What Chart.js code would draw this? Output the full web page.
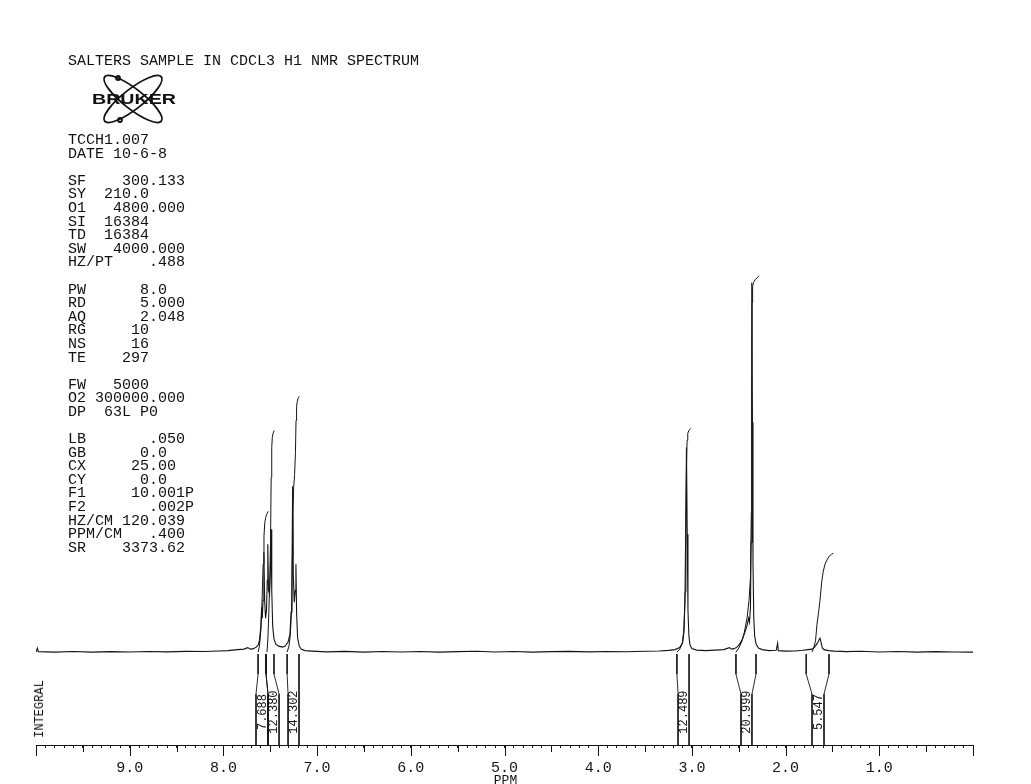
<!DOCTYPE html>
<html>
<head>
<meta charset="utf-8">
<title>SALTERS SAMPLE IN CDCL3 H1 NMR SPECTRUM</title>
<script src="https://cdn.jsdelivr.net/npm/chart.js@4.4.1/dist/chart.umd.min.js"></script>
<style>
  html, body { margin: 0; padding: 0; background: #fff; }
  #page { position: relative; width: 1031px; height: 784px; overflow: hidden; }
  #spectrum { position: absolute; left: 0; top: 0; }
  .plot-text {
    position: absolute; margin: 0; color: #111;
    font-family: "Liberation Mono", "DejaVu Sans Mono", monospace;
    font-size: 15px; line-height: 13.6px; white-space: pre;
  }
  #title { left: 68px; top: 55px; }
  #params { left: 68px; top: 134px; }
  #logo { position: absolute; left: 86px; top: 70px; }
  #integral-label {
    position: absolute; left: 40px; top: 709px; color: #111;
    font: 12px "Liberation Mono", monospace; white-space: pre;
    transform: translate(-50%, -50%) rotate(-90deg);
  }
</style>
</head>
<body>
<div id="page">
  <canvas id="spectrum" width="1031" height="784"></canvas>
  <div id="title" class="plot-text">SALTERS SAMPLE IN CDCL3 H1 NMR SPECTRUM</div>
  <svg id="logo" width="100" height="58" viewBox="0 0 100 58">
    <g fill="none" stroke="#111" stroke-width="1.8">
      <ellipse cx="47" cy="29" rx="36" ry="10" transform="rotate(38 47 29)"/>
      <ellipse cx="47" cy="29" rx="36" ry="10" transform="rotate(-38 47 29)"/>
      <circle cx="32" cy="8" r="2"/>
      <circle cx="34" cy="50" r="2"/>
    </g>
    <text x="6" y="34" textLength="84" lengthAdjust="spacingAndGlyphs"
          font-family="Liberation Sans, Arial, sans-serif" font-weight="bold" font-size="14" fill="#111">BRUKER</text>
  </svg>
  <pre id="params" class="plot-text">TCCH1.007
DATE 10-6-8

SF    300.133
SY  210.0
O1   4800.000
SI  16384
TD  16384
SW   4000.000
HZ/PT    .488

PW      8.0
RD      5.000
AQ      2.048
RG     10
NS     16
TE    297

FW   5000
O2 300000.000
DP  63L P0

LB       .050
GB      0.0
CX     25.00
CY      0.0
F1     10.001P
F2       .002P
HZ/CM 120.039
PPM/CM   .400
SR    3373.62</pre>
  <div id="integral-label">INTEGRAL</div>
</div>
<script>
// ---- data (ppm, height above baseline) ----
const spectrum = [
  [10.00, 0], [9.985, 4], [9.975, 0.5], [9.80, 0], [9.60, 0.6], [9.40, 0], [9.20, 0.5],
  [9.00, 0.2], [8.80, 0.7], [8.60, 0.3], [8.40, 0.8], [8.20, 0.6], [8.05, 1.2], [7.95, 1.5],
  [7.85, 2.5], [7.78, 3], [7.74, 4.5], [7.71, 3], [7.68, 3.5], [7.65, 5], [7.63, 7],
  [7.615, 12], [7.60, 26], [7.592, 45], [7.585, 34], [7.577, 52], [7.568, 100], [7.560, 52],
  [7.550, 34], [7.540, 42], [7.532, 72], [7.526, 108], [7.519, 62], [7.507, 58], [7.498, 85],
  [7.491, 123], [7.484, 62], [7.474, 26], [7.46, 13], [7.44, 8], [7.41, 6], [7.37, 5],
  [7.34, 6], [7.31, 10], [7.29, 18], [7.277, 40], [7.268, 80], [7.261, 166], [7.254, 78],
  [7.244, 50], [7.233, 62], [7.226, 88], [7.219, 40], [7.208, 14], [7.19, 6], [7.17, 3],
  [7.13, 1.5], [7.05, 1], [6.90, 0.3], [6.70, 0.8], [6.50, 0], [6.30, 0.6], [6.10, 0.2],
  [5.90, 0.7], [5.70, 0], [5.50, 0.5], [5.30, 0.9], [5.10, 0.2], [4.90, 0.6], [4.70, 0],
  [4.50, 0.5], [4.30, 0.8], [4.10, 0.3], [3.90, 0.7], [3.70, 0.4], [3.50, 0.9], [3.35, 1.2],
  [3.25, 1.8], [3.18, 2.5], [3.13, 4.5], [3.10, 9], [3.085, 20], [3.075, 48], [3.066, 120],
  [3.058, 205], [3.050, 118], [3.042, 42], [3.032, 16], [3.02, 7], [3.00, 3.5], [2.95, 2],
  [2.85, 1.5], [2.75, 2], [2.66, 2.5], [2.60, 4.5], [2.575, 3], [2.55, 3.5], [2.52, 5],
  [2.49, 8], [2.46, 13], [2.43, 21], [2.41, 27], [2.395, 34], [2.385, 30], [2.375, 45],
  [2.368, 110], [2.363, 240], [2.359, 370], [2.354, 230], [2.348, 90], [2.340, 35], [2.33, 16],
  [2.315, 8], [2.29, 4], [2.25, 2.5], [2.18, 1.5], [2.10, 1.8], [2.085, 9], [2.078, 1.5],
  [2.00, 1], [1.90, 1.2], [1.82, 1.8], [1.76, 2.5], [1.72, 3], [1.69, 5], [1.66, 9],
  [1.645, 12], [1.633, 14], [1.62, 9], [1.607, 4], [1.59, 2.5], [1.54, 1.5], [1.48, 1],
  [1.35, 0.5], [1.20, 0.9], [1.00, 0.2], [0.80, 0.7], [0.60, 0], [0.40, 0.5], [0.20, 0.2],
  [0.00, 0]
];

// integral traces, one per region
const integral1 = [[7.63, 0], [7.615, 6], [7.60, 22], [7.588, 50], [7.576, 88], [7.567, 116],
  [7.558, 130], [7.548, 135], [7.538, 138], [7.522, 141]];
const integral2 = [[7.535, 0], [7.525, 14], [7.515, 40], [7.505, 72], [7.497, 110], [7.490, 175],
  [7.484, 205], [7.478, 215], [7.470, 219], [7.458, 222]];
const integral3 = [[7.32, 0], [7.30, 6], [7.285, 18], [7.272, 45], [7.264, 95], [7.258, 140],
  [7.250, 165], [7.240, 178], [7.231, 200], [7.225, 232], [7.219, 246], [7.212, 251],
  [7.203, 254], [7.192, 256]];
const integral4 = [[3.16, 0], [3.13, 3], [3.10, 10], [3.085, 24], [3.072, 60], [3.064, 130],
  [3.057, 190], [3.051, 212], [3.044, 219], [3.032, 222], [3.012, 224]];
const integral5 = [[2.53, 0], [2.50, 4], [2.47, 10], [2.44, 20], [2.41, 35], [2.39, 52],
  [2.375, 75], [2.366, 140], [2.361, 260], [2.357, 350], [2.352, 366], [2.343, 370],
  [2.325, 373], [2.30, 375], [2.285, 377]];
const integral6 = [[1.72, 0], [1.70, 4], [1.68, 12], [1.665, 28], [1.648, 40], [1.633, 52],
  [1.615, 70], [1.60, 80], [1.58, 88], [1.56, 92], [1.535, 96], [1.51, 98], [1.49, 99]];

// integral values and region limits (ppm) at the baseline and at the axis
const integralValues = ['7.688', '12.380', '14.302', '12.489', '20.999', '5.547'];
const integralTop = [[7.63, 7.545], [7.545, 7.46], [7.32, 7.193], [3.16, 3.03], [2.53, 2.316], [1.78, 1.537]];
const integralFoot = [[7.652, 7.524], [7.524, 7.406], [7.31, 7.193], [3.148, 3.03], [2.476, 2.359], [1.718, 1.59]];

const ppmLabels = ['9.0', '8.0', '7.0', '6.0', '5.0', '4.0', '3.0', '2.0', '1.0'];
const axisTitle = 'PPM';

// ---- drawing ----
const INK = '#141414';
const AXIS_FLOOR = -93;   // axis line sits this far below the baseline

const toXY = (pts) => pts.map(([x, y]) => ({ x, y }));
const trace = (pts, width) => ({
  data: toXY(pts),
  showLine: true,
  borderColor: INK,
  borderWidth: width || 1,
  pointRadius: 0,
  tension: 0,
});

const datasets = [trace(spectrum, 1.1)];
[integral1, integral2, integral3, integral4, integral5, integral6].forEach((c) => datasets.push(trace(c)));

// integral brackets: a line down from each region edge, pinched towards the label
integralTop.forEach((top, i) => {
  [0, 1].forEach((side) => {
    datasets.push(trace([
      [top[side], -2],
      [top[side], -22],
      [integralFoot[i][side], -42],
      [integralFoot[i][side], AXIS_FLOOR],
    ], 0.9));
  });
});

const nmrMarks = {
  id: 'nmrMarks',
  afterDatasetsDraw(chart) {
    const { ctx, scales: { x, y } } = chart;
    const axisY = y.getPixelForValue(AXIS_FLOOR);
    ctx.save();
    ctx.strokeStyle = INK;
    ctx.lineWidth = 1;
    // half and whole ppm ticks are longer
    for (let i = 0; i <= 20; i++) {
      const px = Math.round(x.getPixelForValue(i / 2)) + 0.5;
      ctx.beginPath();
      ctx.moveTo(px, axisY);
      ctx.lineTo(px, axisY + (i % 2 === 0 ? 11 : 7));
      ctx.stroke();
    }
    ctx.fillStyle = INK;
    ctx.textAlign = 'center';
    ctx.textBaseline = 'middle';
    // axis unit under the middle of the scale
    ctx.font = '13px "Liberation Mono", monospace';
    ctx.fillText(axisTitle, x.getPixelForValue(5) + 1, axisY + 36);
    // integral values, written upwards between the bracket feet
    ctx.font = '12px "Liberation Mono", monospace';
    integralValues.forEach((t, i) => {
      const px = (x.getPixelForValue(integralFoot[i][0]) + x.getPixelForValue(integralFoot[i][1])) / 2;
      ctx.save();
      ctx.translate(px + 0.5, y.getPixelForValue(-60));
      ctx.rotate(-Math.PI / 2);
      ctx.fillText(t, 0, 0);
      ctx.restore();
    });
    ctx.restore();
  },
};

new Chart(document.getElementById('spectrum'), {
  type: 'scatter',
  data: { datasets },
  options: {
    responsive: false,
    animation: false,
    devicePixelRatio: 1,
    layout: { padding: { left: 36, right: 58, top: 0, bottom: -5 } },
    plugins: { legend: { display: false }, tooltip: { enabled: false } },
    scales: {
      x: {
        type: 'linear',
        reverse: true,
        min: 0,
        max: 10,
        border: { display: true, color: INK, width: 1 },
        grid: { display: true, drawOnChartArea: false, drawTicks: true, tickLength: 3, color: INK },
        ticks: {
          stepSize: 0.1,
          autoSkip: false,
          maxRotation: 0,
          padding: 13,
          color: INK,
          font: { family: '"Liberation Mono", monospace', size: 15, lineHeight: 1 },
          callback: (v) => {
            const r = Math.round(v * 10) / 10;
            const lbl = r.toFixed(1);
            return ppmLabels.includes(lbl) ? lbl : '';
          },
        },
      },
      y: { display: false, min: AXIS_FLOOR, max: 653 },
    },
  },
  plugins: [nmrMarks],
});
</script>
</body>
</html>
